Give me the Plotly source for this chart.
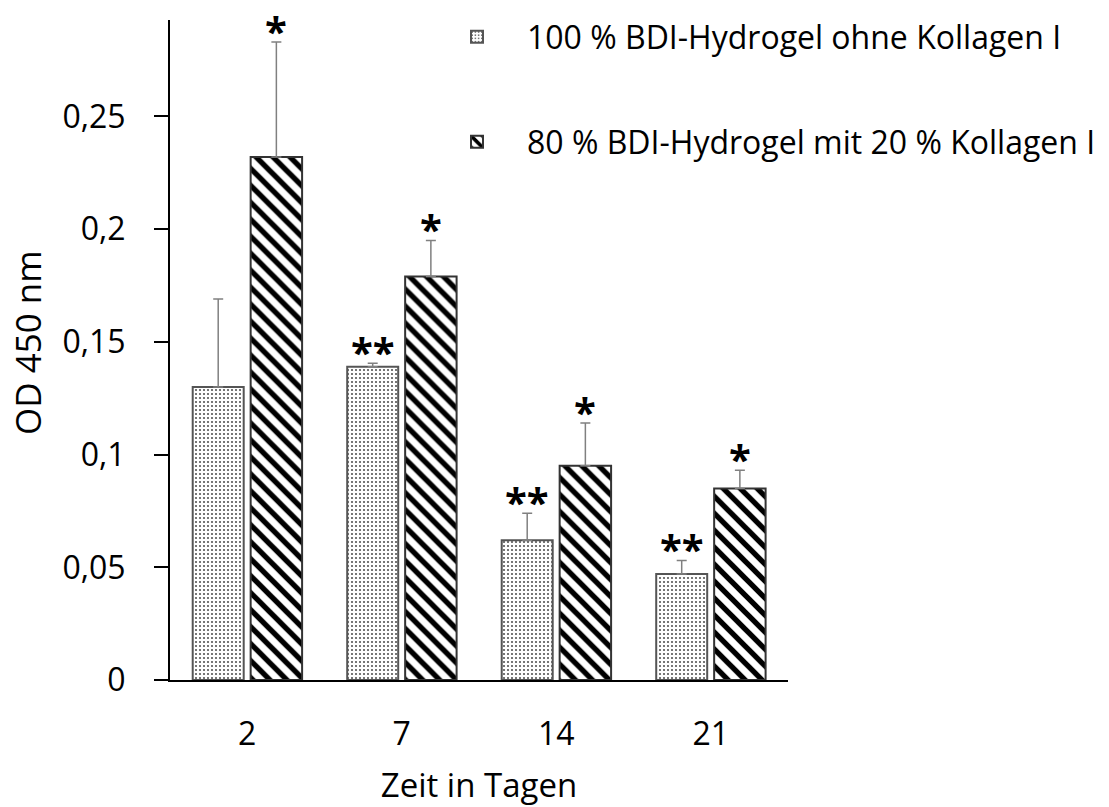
import plotly.graph_objects as go

# ---- data ----
days = ["2", "7", "14", "21"]
od_100 = [0.130, 0.139, 0.062, 0.047]
err_100 = [0.039, 0.0015, 0.012, 0.006]
od_80 = [0.232, 0.179, 0.095, 0.085]
err_80 = [0.051, 0.016, 0.019, 0.008]
sig_100 = ["", "**", "**", "**"]
sig_80 = ["*", "*", "*", "*"]
name_100 = "100 % BDI-Hydrogel ohne Kollagen I"
name_80 = "80 % BDI-Hydrogel mit 20 % Kollagen I"
y_tickvals = [0, 0.05, 0.1, 0.15, 0.2, 0.25]
y_ticktext = ["0", "0,05", "0,1", "0,15", "0,2", "0,25"]

W, H = 1109, 807
FONT = "Open Sans"
FS = 32

xpos = list(range(len(days)))
off1, w1 = -0.353, 0.33
off2, w2 = 0.022, 0.333

fig = go.Figure()
fig.add_trace(go.Bar(
    x=xpos, y=od_100, name=name_100, offset=off1, width=w1,
    marker=dict(color="white", line=dict(color="#555555", width=2),
                pattern=dict(shape=".", size=4, solidity=0.22,
                             fgcolor="#555555", bgcolor="white",
                             fgopacity=1, fillmode="replace")),
    error_y=dict(type="data", symmetric=False, array=err_100,
                 arrayminus=[0] * len(err_100), color="#808080",
                 thickness=1.5, width=5),
    legend="legend",
))
fig.add_trace(go.Bar(
    x=xpos, y=od_80, name=name_80, offset=off2, width=w2,
    marker=dict(color="white", line=dict(color="#333333", width=2),
                pattern=dict(shape="\\", size=12, solidity=0.45,
                             fgcolor="black", bgcolor="white",
                             fgopacity=1, fillmode="replace")),
    error_y=dict(type="data", symmetric=False, array=err_80,
                 arrayminus=[0] * len(err_80), color="#808080",
                 thickness=1.5, width=5),
    legend="legend2",
))

ann = []
for i in xpos:
    for val, err, sig, off, w in ((od_100[i], err_100[i], sig_100[i], off1, w1),
                                  (od_80[i], err_80[i], sig_80[i], off2, w2)):
        if sig:
            ann.append(dict(x=i + off + w / 2, y=val + err, xref="x", yref="y",
                            text="<b>" + sig + "</b>", showarrow=False,
                            yanchor="middle", yshift=12,
                            font=dict(family=FONT, size=40, color="black")))

# y-axis title
ann.append(dict(text="OD 450 nm", xref="paper", yref="paper", x=0, y=0.5,
                xanchor="center", yanchor="middle", xshift=-143, yshift=7,
                textangle=-90, showarrow=False,
                font=dict(family=FONT, size=35, color="black")))

fig.update_layout(
    width=W, height=H,
    margin=dict(l=170, r=W - 788, t=20, b=H - 680, autoexpand=False),
    paper_bgcolor="white", plot_bgcolor="white",
    barmode="overlay",
    font=dict(family=FONT, size=FS, color="black"),
    showlegend=True,
    legend=dict(xref="container", yref="container", x=427 / W, y=1 - 37 / H,
                xanchor="left", yanchor="middle", itemwidth=90,
                font=dict(family=FONT, size=32), bgcolor="rgba(0,0,0,0)"),
    legend2=dict(xref="container", yref="container", x=427 / W, y=1 - 142 / H,
                 xanchor="left", yanchor="middle", itemwidth=90,
                 font=dict(family=FONT, size=32), bgcolor="rgba(0,0,0,0)"),
    annotations=ann,
    xaxis=dict(range=[-0.5, 3.5], showline=True, linecolor="black", linewidth=2,
               tickvals=xpos, ticktext=days,
               ticks="", showgrid=False, zeroline=False,
               ticklabelstandoff=25,
               title=dict(text="Zeit in Tagen", standoff=21,
                          font=dict(family=FONT, size=33))),
    yaxis=dict(range=[0, 0.2928], showline=True, linecolor="black", linewidth=2,
               ticks="outside", ticklen=14, tickwidth=2, tickcolor="black",
               tickvals=y_tickvals, ticktext=y_ticktext,
               showgrid=False, zeroline=False, ticklabelstandoff=22),
)

fig.write_html("out.html", config={"displayModeBar": False},
               post_script="document.body.style.margin='0';")
